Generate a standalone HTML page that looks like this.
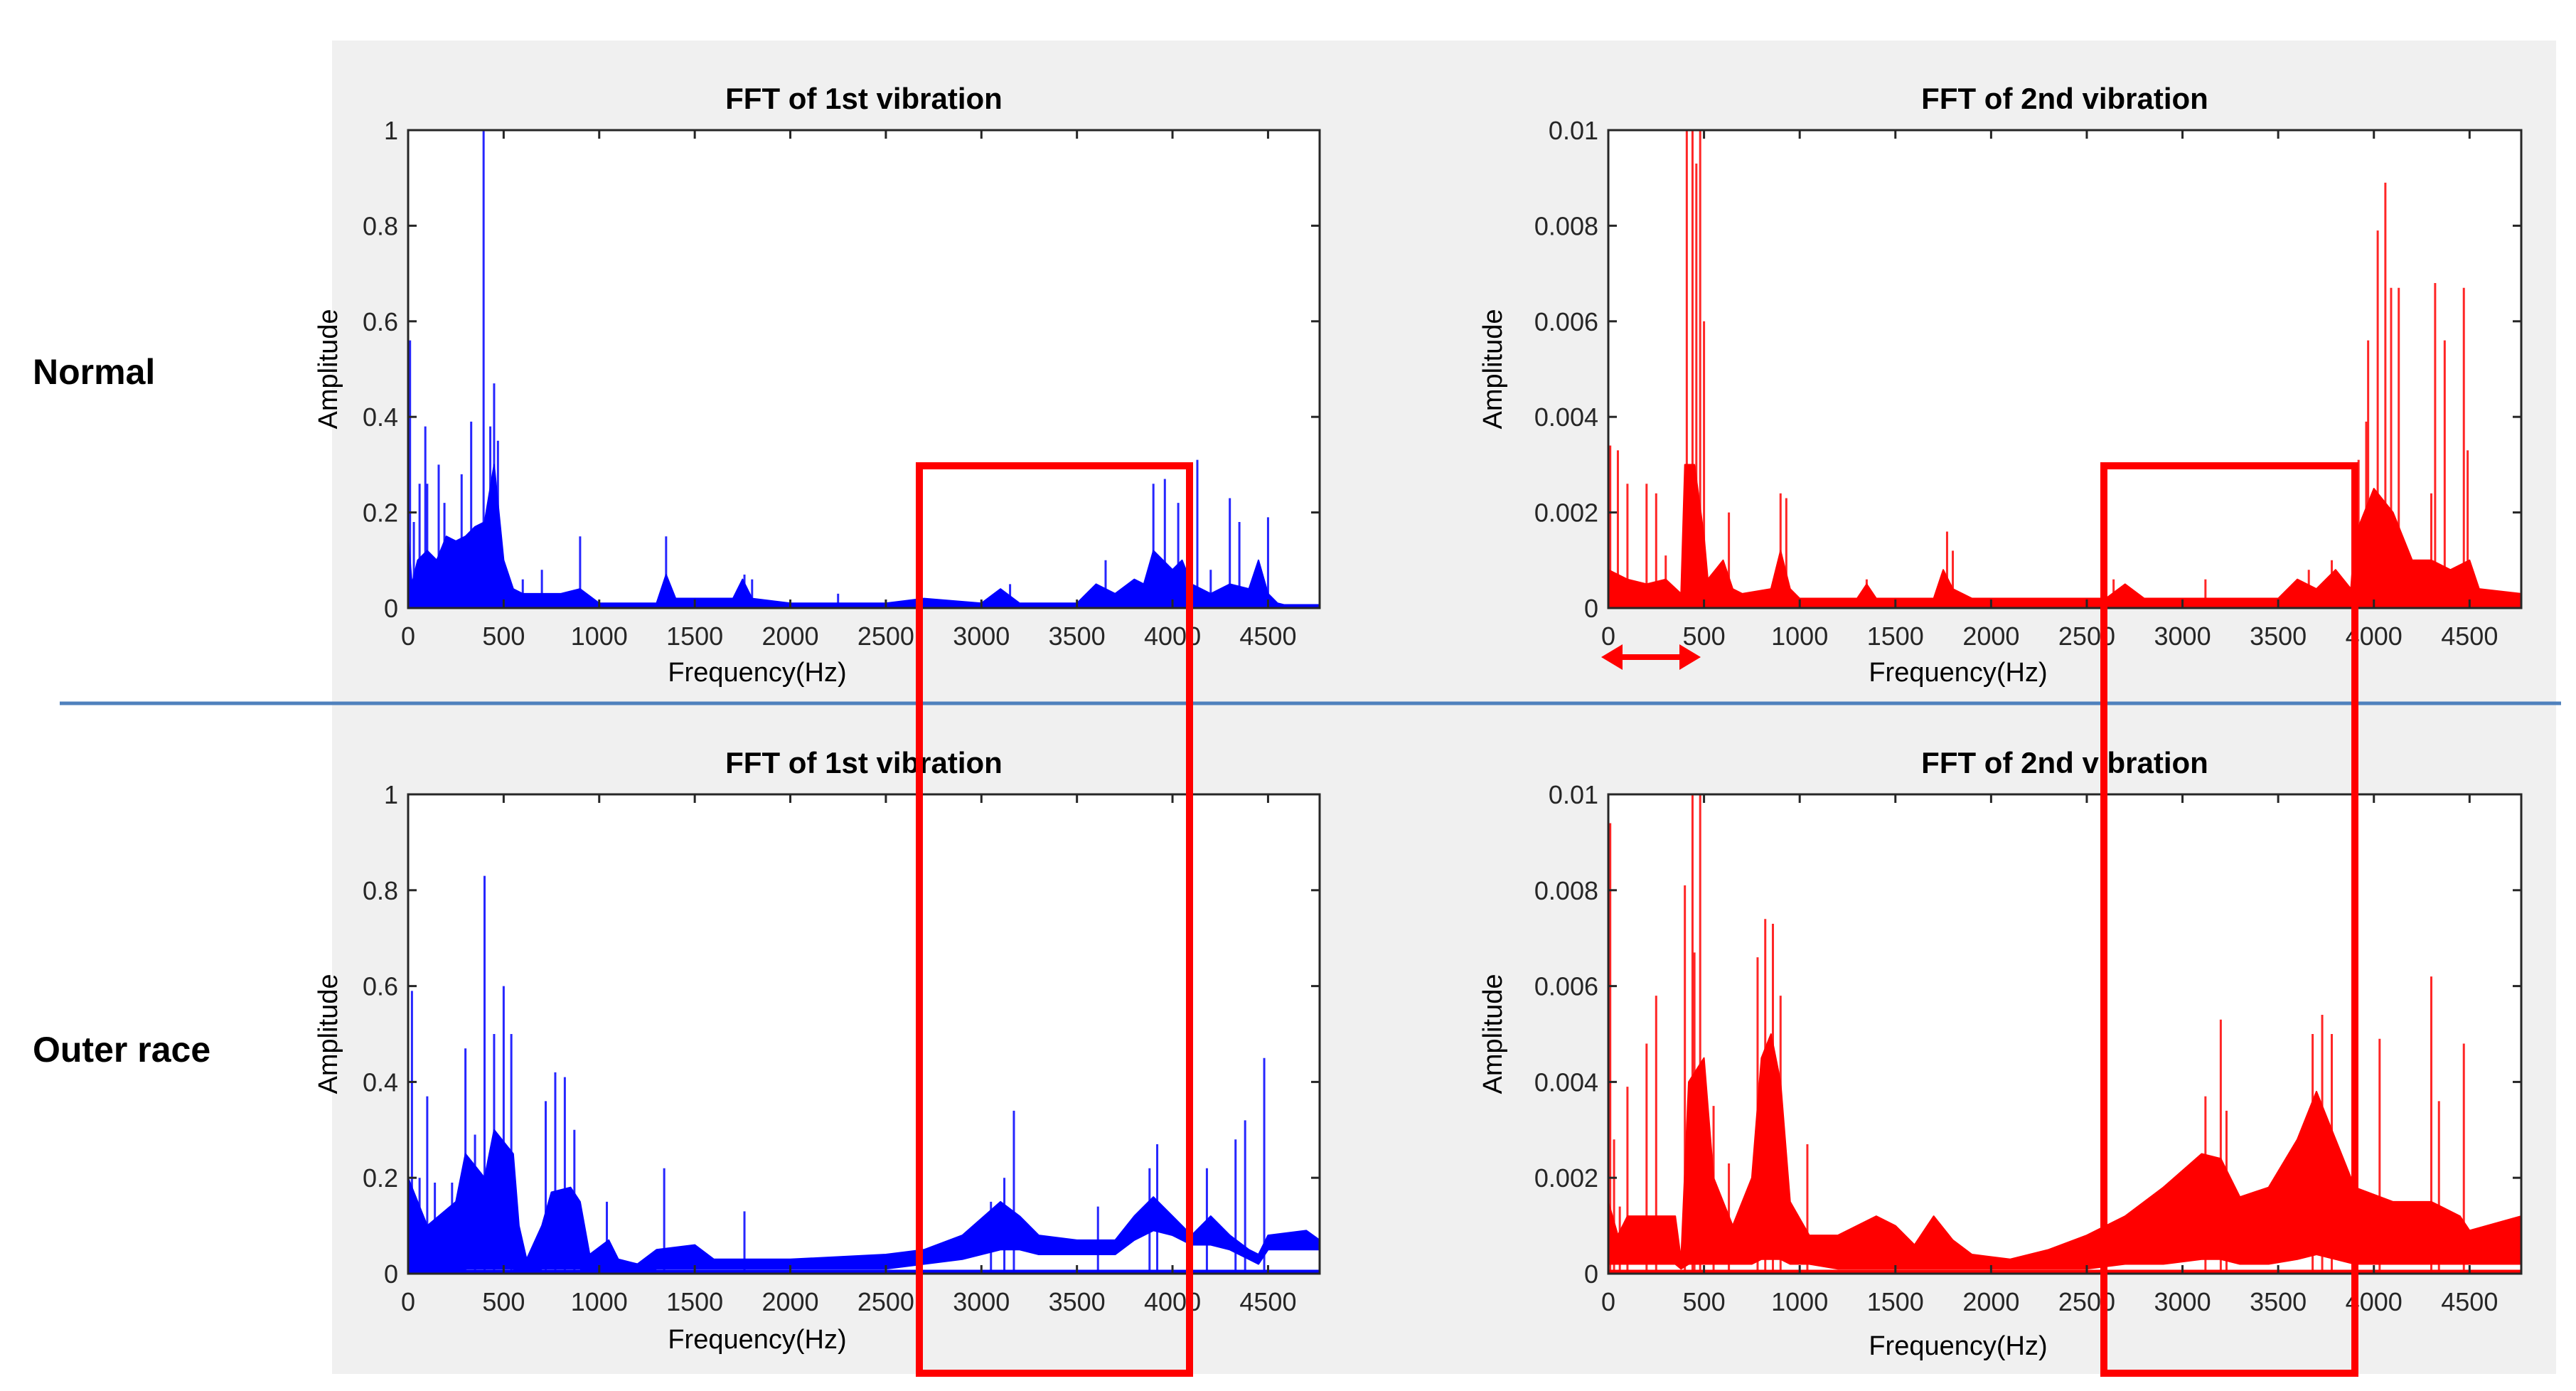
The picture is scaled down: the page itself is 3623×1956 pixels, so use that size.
<!DOCTYPE html>
<html><head><meta charset="utf-8"><style>
html,body{margin:0;padding:0;background:#fff;}
svg{display:block;font-family:"Liberation Sans",sans-serif;}
</style></head><body>
<svg id="root" width="3623" height="1956" viewBox="0 0 3623 1956" xmlns="http://www.w3.org/2000/svg">
<rect x="467" y="57" width="3128" height="1875" fill="#f0f0f0"/>
<text x="46" y="540" font-size="50" font-weight="bold" fill="#000">Normal</text>
<text x="46" y="1493" font-size="50" font-weight="bold" fill="#000">Outer race</text>
<g id="plots"></g>
<line x1="84" y1="989" x2="3602" y2="989" stroke="#4f81bd" stroke-width="5"/>
<rect x="1293" y="655" width="380" height="1276" fill="none" stroke="#ff0000" stroke-width="10"/>
<rect x="2959" y="655" width="353" height="1276" fill="none" stroke="#ff0000" stroke-width="10"/>
<g>
<line x1="2272" y1="924" x2="2372" y2="924" stroke="#ff0000" stroke-width="8"/>
<polygon points="2252,924 2282,906 2282,942" fill="#ff0000"/>
<polygon points="2392,924 2362,906 2362,942" fill="#ff0000"/>
</g>
</svg>
<script>
// ---- Plot 1: Normal, 1st vibration ----
const p1EnvFreq = [0,20,50,100,150,200,250,300,350,400,450,500,550,600,700,800,900,1000,1100,1300,1350,1400,1500,1700,1750,1800,2000,2500,2700,3000,3100,3200,3500,3600,3700,3800,3850,3900,4000,4050,4100,4200,4300,4400,4450,4500,4550,4600,4770];
const p1EnvAmp = [0.15,0.05,0.1,0.12,0.1,0.15,0.14,0.15,0.17,0.18,0.3,0.1,0.04,0.03,0.03,0.03,0.04,0.01,0.01,0.01,0.07,0.02,0.02,0.02,0.06,0.02,0.01,0.01,0.02,0.01,0.04,0.01,0.01,0.05,0.03,0.06,0.05,0.12,0.08,0.1,0.05,0.03,0.05,0.04,0.1,0.03,0.01,0.005,0.005];
const p1SpikeFreq = [10,30,60,90,100,160,190,280,330,395,430,450,470,600,700,900,1350,1760,1800,2250,2680,3150,3650,3900,3960,4030,4080,4130,4200,4300,4350,4500];
const p1SpikeAmp = [0.56,0.18,0.26,0.38,0.26,0.3,0.22,0.28,0.39,1.0,0.38,0.47,0.35,0.06,0.08,0.15,0.15,0.07,0.06,0.03,0.06,0.05,0.1,0.26,0.27,0.22,0.25,0.31,0.08,0.23,0.18,0.19];

// ---- Plot 2: Normal, 2nd vibration ----
const p2EnvFreq = [0,100,200,300,380,400,450,500,520,600,650,700,850,900,950,1000,1300,1350,1400,1700,1750,1800,1900,2600,2700,2800,3500,3600,3700,3800,3880,3900,4000,4100,4200,4300,4400,4500,4550,4770];
const p2EnvAmp = [0.0008,0.0006,0.0005,0.0006,0.0003,0.0030,0.0030,0.0015,0.0006,0.0010,0.0004,0.0003,0.0004,0.0012,0.0004,0.0002,0.0002,0.0005,0.0002,0.0002,0.0008,0.0004,0.0002,0.0002,0.0005,0.0002,0.0002,0.0006,0.0004,0.0008,0.0004,0.0015,0.0025,0.0020,0.0010,0.0010,0.0008,0.0010,0.0004,0.0003];
const p2SpikeFreq = [10,50,100,200,250,300,410,440,460,480,500,630,900,930,1350,1770,1800,2640,3120,3660,3780,3920,3960,3970,4020,4060,4090,4130,4220,4300,4320,4370,4470,4490];
const p2SpikeAmp = [0.0034,0.0033,0.0026,0.0026,0.0024,0.0011,0.0100,0.0100,0.0093,0.0100,0.0060,0.0020,0.0024,0.0023,0.0006,0.0016,0.0012,0.0006,0.0006,0.0008,0.0010,0.0031,0.0039,0.0056,0.0079,0.0089,0.0067,0.0067,0.0010,0.0024,0.0068,0.0056,0.0067,0.0033];

// ---- Plot 3: Outer race, 1st vibration ----
const p3EnvFreq = [0,100,250,300,400,450,550,580,620,700,750,850,900,950,1050,1100,1200,1300,1500,1600,2000,2500,2700,2900,3100,3200,3300,3500,3700,3800,3900,4000,4100,4200,4300,4400,4450,4500,4700,4770];
const p3EnvAmp = [0.2,0.1,0.15,0.25,0.2,0.3,0.25,0.1,0.03,0.1,0.17,0.18,0.15,0.04,0.07,0.03,0.02,0.05,0.06,0.03,0.03,0.04,0.05,0.08,0.15,0.12,0.08,0.07,0.07,0.12,0.16,0.12,0.08,0.12,0.08,0.05,0.04,0.08,0.09,0.07];
const p3FloorAmp = [0,0,0,0.01,0.01,0.01,0.01,0,0,0.01,0.01,0.01,0.01,0,0,0,0,0.01,0.01,0.01,0.01,0.01,0.02,0.03,0.05,0.05,0.04,0.04,0.04,0.07,0.09,0.08,0.06,0.06,0.05,0.03,0.02,0.05,0.05,0.05];
const p3SpikeFreq = [20,60,100,140,230,300,350,400,450,500,540,720,770,820,870,1040,1340,1760,3050,3120,3170,3610,3880,3920,4180,4330,4380,4480];
const p3SpikeAmp = [0.59,0.2,0.37,0.19,0.19,0.47,0.29,0.83,0.5,0.6,0.5,0.36,0.42,0.41,0.3,0.15,0.22,0.13,0.15,0.2,0.34,0.14,0.22,0.27,0.22,0.28,0.32,0.45];

// ---- Plot 4: Outer race, 2nd vibration ----
const p4EnvFreq = [0,50,100,350,380,420,500,550,650,750,800,850,900,950,1050,1200,1400,1500,1600,1700,1800,1900,2100,2300,2500,2700,2900,3100,3200,3300,3450,3600,3700,3800,3900,4100,4300,4450,4500,4770];
const p4EnvAmp = [0.0015,0.0008,0.0012,0.0012,0.0003,0.0040,0.0045,0.0020,0.0010,0.0020,0.0045,0.0050,0.0040,0.0015,0.0008,0.0008,0.0012,0.0010,0.0006,0.0012,0.0007,0.0004,0.0003,0.0005,0.0008,0.0012,0.0018,0.0025,0.0024,0.0016,0.0018,0.0028,0.0038,0.0028,0.0018,0.0015,0.0015,0.0012,0.0009,0.0012];
const p4FloorAmp = [0.0002,0.0002,0.0002,0.0002,0.0001,0.0002,0.0002,0.0002,0.0002,0.0002,0.0003,0.0003,0.0003,0.0002,0.0002,0.0001,0.0001,0.0001,0.0001,0.0001,0.0001,0.0001,0.0001,0.0001,0.0001,0.0002,0.0002,0.0003,0.0003,0.0002,0.0002,0.0003,0.0004,0.0003,0.0002,0.0002,0.0002,0.0002,0.0002,0.0002];
const p4SpikeFreq = [10,30,60,100,200,250,400,440,450,480,550,630,780,820,860,900,1040,3120,3200,3230,3680,3730,3780,4030,4300,4340,4470];
const p4SpikeAmp = [0.0094,0.0028,0.0014,0.0039,0.0048,0.0058,0.0081,0.0100,0.0067,0.0100,0.0035,0.0023,0.0066,0.0074,0.0073,0.0058,0.0027,0.0037,0.0053,0.0034,0.0050,0.0054,0.0050,0.0049,0.0062,0.0036,0.0048];

const xTicks = [0,500,1000,1500,2000,2500,3000,3500,4000,4500];
const yTicksA = [0,0.2,0.4,0.6,0.8,1];
const yTickLabelsA = ["0","0.2","0.4","0.6","0.8","1"];
const yTicksB = [0,0.002,0.004,0.006,0.008,0.01];
const yTickLabelsB = ["0","0.002","0.004","0.006","0.008","0.01"];
const titles = ["FFT of 1st vibration","FFT of 2nd vibration","FFT of 1st vibration","FFT of 2nd vibration"];

const NS = "http://www.w3.org/2000/svg";
const XMAX = 4770;
function mk(tag, attrs, parent){
  const e = document.createElementNS(NS, tag);
  for (const k in attrs) e.setAttribute(k, attrs[k]);
  parent.appendChild(e);
  return e;
}
const root = document.getElementById('plots');

function drawPlot(key, L, R, T, B, ymax, color, envF, envA, floorA, spF, spA, yT, yL, title, xlabY, ylabOff){
  const g = mk('g', {}, root);
  
  
  const xs = f => L + (f / XMAX) * (R - L);
  const ys = v => B - (Math.min(v, ymax) / ymax) * (B - T);
  const bg = mk('rect', {x:L, y:T, width:R-L, height:B-T, fill:'#fff'}, g);
  
  
  let pts = [];
  for (let i=0;i<envF.length;i++) pts.push(xs(envF[i])+','+ys(envA[i]));
  for (let i=envF.length-1;i>=0;i--) pts.push(xs(envF[i])+','+ys(floorA ? floorA[i] : 0));
  const env = mk('polygon', {points: pts.join(' '), fill: color, stroke: color, 'stroke-width':2, 'stroke-linejoin':'round'}, g);
  
  
  const base = mk('line', {x1:L, y1:B-3, x2:R, y2:B-3, stroke:color, 'stroke-width':5}, g);
  
  
  for (let i=0;i<spF.length;i++){
    const ln = mk('line', {x1:xs(spF[i]), y1:B, x2:xs(spF[i]), y2:ys(spA[i]), stroke:color, 'stroke-width':3, 'stroke-opacity':0.85}, g);
    
    
  }
  const frame = mk('rect', {x:L, y:T, width:R-L, height:B-T, fill:'none', stroke:'#262626', 'stroke-width':3}, g);
  
  
  for (const t of xTicks){
    const x = xs(t);
    mk('line', {x1:x, y1:B, x2:x, y2:B-12, stroke:'#262626', 'stroke-width':3}, g);
    mk('line', {x1:x, y1:T, x2:x, y2:T+12, stroke:'#262626', 'stroke-width':3}, g);
    const tx = mk('text', {x:x, y:B+52, 'font-size':36, fill:'#262626', 'text-anchor':'middle'}, g);
    tx.textContent = t;
    
    
  }
  for (let i=0;i<yT.length;i++){
    const y = ys(yT[i]);
    mk('line', {x1:L, y1:y, x2:L+12, y2:y, stroke:'#262626', 'stroke-width':3}, g);
    mk('line', {x1:R, y1:y, x2:R-12, y2:y, stroke:'#262626', 'stroke-width':3}, g);
    const ty = mk('text', {x:L-14, y:y+13, 'font-size':36, fill:'#262626', 'text-anchor':'end'}, g);
    ty.textContent = yL[i];
    
    
  }
  const tt = mk('text', {x:(L+R)/2, y:T-30, 'font-size':42, 'font-weight':'bold', fill:'#000', 'text-anchor':'middle'}, g);
  tt.textContent = title;
  
  
  const xl = mk('text', {x:(L+R)/2 - 150, y:xlabY, 'font-size':38, fill:'#000', 'text-anchor':'middle'}, g);
  xl.textContent = 'Frequency(Hz)';
  
  
  const ax = L - ylabOff, ay = (T+B)/2;
  const yl = mk('text', {x:ax, y:ay, 'font-size':38, fill:'#000', 'text-anchor':'middle', transform:'rotate(-90 '+ax+' '+ay+')'}, g);
  yl.textContent = 'Amplitude';
  
  
}

drawPlot('fft-normal-1st', 574, 1856, 183, 855, 1, '#0000ff', p1EnvFreq, p1EnvAmp, null, p1SpikeFreq, p1SpikeAmp, yTicksA, yTickLabelsA, titles[0], 958, 100);
drawPlot('fft-normal-2nd', 2262, 3546, 183, 855, 0.01, '#ff0000', p2EnvFreq, p2EnvAmp, null, p2SpikeFreq, p2SpikeAmp, yTicksB, yTickLabelsB, titles[1], 958, 150);
drawPlot('fft-outer-1st', 574, 1856, 1117, 1791, 1, '#0000ff', p3EnvFreq, p3EnvAmp, p3FloorAmp, p3SpikeFreq, p3SpikeAmp, yTicksA, yTickLabelsA, titles[2], 1896, 100);
drawPlot('fft-outer-2nd', 2262, 3546, 1117, 1791, 0.01, '#ff0000', p4EnvFreq, p4EnvAmp, p4FloorAmp, p4SpikeFreq, p4SpikeAmp, yTicksB, yTickLabelsB, titles[3], 1905, 150);
</script>
</body></html>
